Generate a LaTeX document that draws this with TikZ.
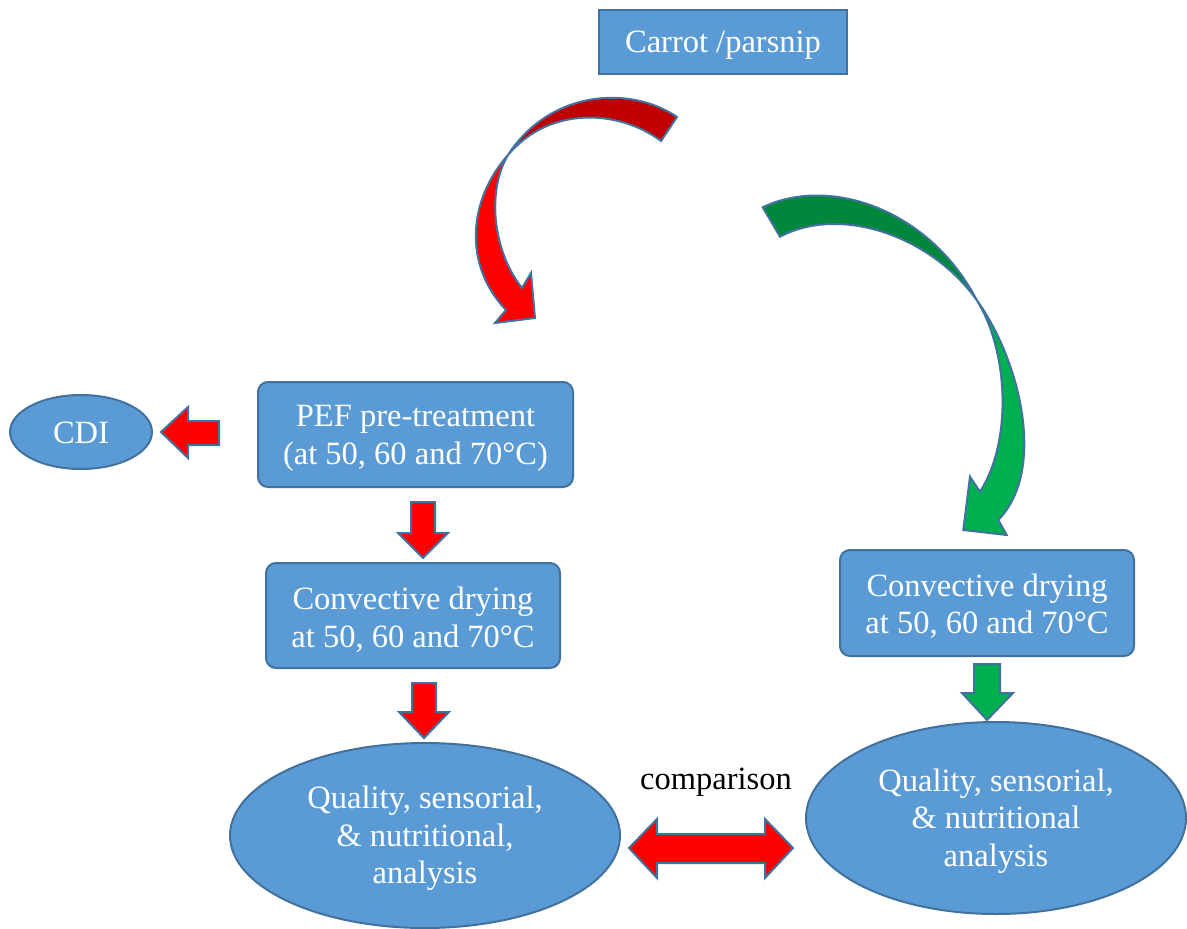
\documentclass[tikz,border=0pt]{standalone}
\usepackage{fontspec}
\setmainfont{Liberation Serif}
\usetikzlibrary{shapes.geometric}
\definecolor{boxblue}{HTML}{5B9BD5}
\definecolor{edgeblue}{HTML}{41719C}
\definecolor{darkred}{HTML}{C00000}
\definecolor{brightred}{HTML}{FF0000}
\definecolor{darkgreen}{HTML}{00873C}
\definecolor{lightgreen}{HTML}{00B050}
\begin{document}
\begin{tikzpicture}[x=1pt,y=-1pt,
  txt/.style={font=\fontsize{32.5}{37.5}\selectfont, align=center, inner sep=0pt},
  txtw/.style={txt, text=white},
  box/.style={draw=edgeblue, line width=2pt, fill=boxblue, rounded corners=10pt, inner sep=0pt},
  oval/.style={ellipse, draw=edgeblue, line width=2pt, fill=boxblue, inner sep=0pt},
  blk/.style={draw=edgeblue, line width=2pt, line join=miter}
]
\useasboundingbox (0,0) rectangle (1187,929);

% shapes
\node[box, rounded corners=0pt, minimum width=248pt, minimum height=64pt] (carrot) at (723,42) {};
\node[box, minimum width=315pt, minimum height=105pt] (pef) at (415.5,434.5) {};
\node[box, minimum width=294pt, minimum height=105pt] (convL) at (413,615.5) {};
\node[box, minimum width=294pt, minimum height=106pt] (convR) at (987,603) {};
\node[oval, minimum width=142pt, minimum height=74pt] (cdi) at (81,432) {};
\node[oval, minimum width=390pt, minimum height=185pt] (qualL) at (425,835.5) {};
\node[oval, minimum width=380pt, minimum height=192pt] (qualR) at (996,818) {};

% texts
\node[txtw] (tcarrot) at ([yshift=-3pt]carrot.center) {Carrot /parsnip};
\node[txtw] (tpef) at ([yshift=-4pt]pef.center) {PEF pre-treatment\\(at 50, 60 and 70°C)};
\node[txtw] (tconvL) at ([yshift=-4pt]convL.center) {Convective drying\\at 50, 60 and 70°C};
\node[txtw] (tconvR) at ([yshift=-3pt]convR.center) {Convective drying\\at 50, 60 and 70°C};
\node[txtw] (tcdi) at ([yshift=-1pt]cdi.center) {CDI};
\node[txtw] (tqualL) at ([yshift=-3pt]qualL.center) {Quality, sensorial,\\\& nutritional,\\analysis};
\node[txtw] (tqualR) at ([yshift=-3pt]qualR.center) {Quality, sensorial,\\\& nutritional\\analysis};
\node[txt, text=black] (cmp) at (716,782) {comparison};

% red curved arrow
\draw[blk, fill=darkred] (677,117) .. controls (630,85) and (550,90) .. (508,155)
   .. controls (550,105) and (620,110) .. (661,141) -- cycle;
\draw[blk, fill=brightred] (508,155) .. controls (468,200) and (463,265) .. (506,310)
   -- (495,323) -- (535,318) -- (531,273) -- (522,288)
   .. controls (492,250) and (487,190) .. (508,155) -- cycle;

% green curved arrow
\draw[blk, fill=darkgreen] (762.7,207.3) .. controls (830,175) and (930,210) .. (976.7,300)
   .. controls (930,235) and (840,205) .. (780,236.7) -- cycle;
\draw[blk, fill=lightgreen] (976.7,300) .. controls (1020,360) and (1047,470) .. (998.3,520)
   -- (1006.7,535) -- (963.3,530) -- (970,476.7) -- (980,491.7)
   .. controls (1013,440) and (1008,350) .. (976.7,300) -- cycle;

% block arrows
\draw[blk, fill=brightred] (219,421) -- (188,421) -- (188,407) -- (161,432) -- (188,458) -- (188,445) -- (219,445) -- cycle;
\draw[blk, fill=brightred] (411,502) -- (435,502) -- (435,533) -- (448,533) -- (423,558) -- (398,533) -- (411,533) -- cycle;
\draw[blk, fill=brightred] (412,683) -- (436,683) -- (436,712) -- (449,712) -- (424,738) -- (399,712) -- (412,712) -- cycle;
\draw[blk, fill=lightgreen] (974,664) -- (1000,664) -- (1000,693) -- (1013,693) -- (987,720) -- (962,693) -- (974,693) -- cycle;
\draw[blk, fill=brightred] (629,848) -- (657,819) -- (657,834) -- (765,834) -- (765,819) -- (793,848) -- (765,878) -- (765,863) -- (657,863) -- (657,878) -- cycle;
\end{tikzpicture}
\end{document}
